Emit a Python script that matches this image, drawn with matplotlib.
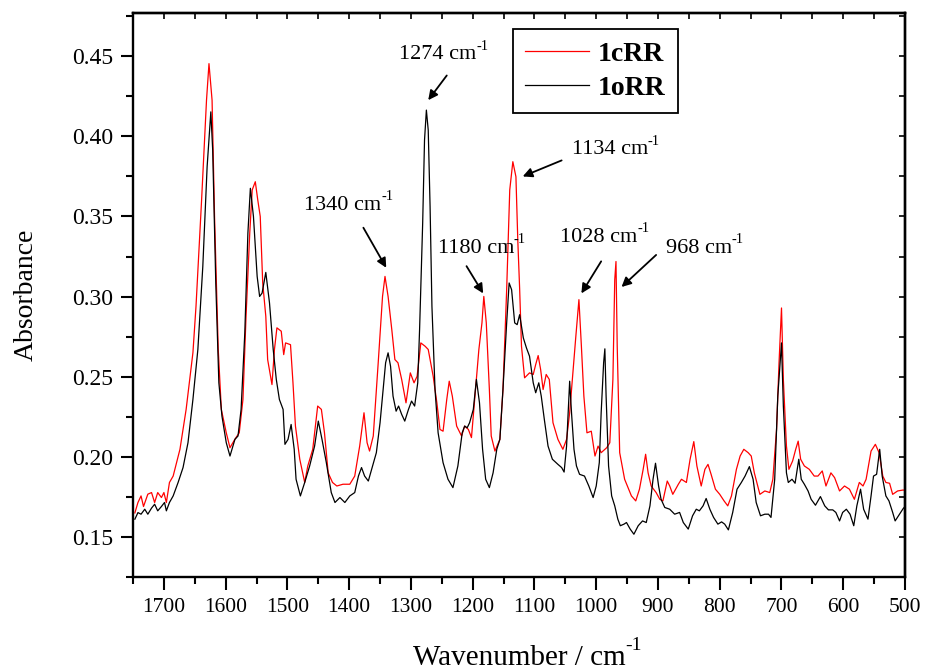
import numpy as np
import matplotlib
matplotlib.use("Agg")
import matplotlib.pyplot as plt
from matplotlib.ticker import MultipleLocator

plt.rcParams["font.family"] = ["Liberation Serif", "DejaVu Serif"]

# ---- data (wavenumber, absorbance) ----
wn_c = [1747, 1742, 1737, 1733, 1726, 1720, 1715, 1710, 1704, 1700, 1696, 1691, 1685,
        1674, 1664, 1653, 1648, 1639, 1631, 1627, 1622, 1618, 1612, 1607, 1599, 1593,
        1585, 1578, 1572, 1567, 1561, 1557, 1552, 1548, 1544, 1540, 1535, 1532, 1525,
        1521, 1517, 1510, 1506, 1503, 1495, 1491, 1487, 1480, 1472, 1467, 1459, 1451,
        1445, 1440, 1434, 1427, 1420, 1410, 1399, 1391, 1383, 1376, 1371, 1367, 1361,
        1353, 1346, 1342, 1337, 1331, 1326, 1321, 1315, 1308, 1301, 1295, 1290, 1284,
        1277, 1272, 1264, 1258, 1253, 1248, 1242, 1238, 1233, 1226, 1218, 1213, 1207,
        1202, 1195, 1190, 1185, 1182, 1178, 1173, 1170, 1164, 1156, 1151, 1145, 1140,
        1135, 1130, 1127, 1124, 1121, 1116, 1108, 1102, 1098, 1094, 1090, 1086, 1081,
        1076, 1070, 1062, 1054, 1048, 1043, 1037, 1033, 1028, 1024, 1020, 1015, 1008,
        1002, 997, 992, 983, 978, 973, 970, 968, 966, 962, 954, 943, 936, 930, 924,
        920, 916, 911, 903, 897, 892, 885, 881, 876, 867, 862, 854, 848, 842, 837,
        830, 824, 819, 814, 807, 800, 793, 787, 781, 773, 767, 761, 754, 749, 744,
        735, 727, 719, 714, 708, 704, 700, 697, 692, 688, 682, 677, 673, 669, 663,
        655, 647, 641, 634, 628, 620, 614, 606, 598, 590, 582, 574, 568, 563, 555,
        548, 542, 536, 531, 525, 520, 512, 503, 500]
abs_c = [0.165, 0.1715, 0.1756, 0.169, 0.1767, 0.1777, 0.1715, 0.1777, 0.1746, 0.1777,
         0.1715, 0.184, 0.188, 0.2047, 0.2296, 0.265, 0.294, 0.360, 0.4226, 0.4454,
         0.4226, 0.350, 0.267, 0.2296, 0.215, 0.2057, 0.211, 0.215, 0.2358, 0.2877,
         0.3396, 0.3666, 0.3717, 0.3603, 0.350, 0.3085, 0.2877, 0.2607, 0.2451, 0.267,
         0.2805, 0.2784, 0.2638, 0.2711, 0.270, 0.2462, 0.2192, 0.1985, 0.184, 0.1943,
         0.2047, 0.2317, 0.2296, 0.215, 0.190, 0.184, 0.1818, 0.1829, 0.1829, 0.188,
         0.2067, 0.2275, 0.2088, 0.2036, 0.2130, 0.2587, 0.3001, 0.3126, 0.3001, 0.2794,
         0.2607, 0.2587, 0.2483, 0.2337, 0.2524, 0.2462, 0.2503, 0.2711, 0.269, 0.267,
         0.2503, 0.2337, 0.2171, 0.216, 0.2358, 0.2472, 0.2379, 0.2192, 0.213, 0.2192,
         0.2171, 0.212, 0.2441, 0.267, 0.2836, 0.3001, 0.2836, 0.2420, 0.213, 0.2036,
         0.2109, 0.242, 0.3043, 0.3666, 0.3842, 0.3748, 0.3354, 0.305, 0.269, 0.2493,
         0.2524, 0.2514, 0.2576, 0.2632, 0.2545, 0.242, 0.2514, 0.2483, 0.2213, 0.2109,
         0.2047, 0.2109, 0.2275, 0.2566, 0.2752, 0.2981, 0.269, 0.2379, 0.215, 0.216,
         0.2005, 0.2067, 0.2026, 0.2057, 0.2088, 0.2483, 0.3105, 0.3219, 0.269, 0.2026,
         0.186, 0.1756, 0.1725, 0.1798, 0.1922, 0.2016, 0.190, 0.1818, 0.1777, 0.1735,
         0.1725, 0.1849, 0.1818, 0.1766, 0.1829, 0.186, 0.184, 0.1985, 0.2095, 0.1943,
         0.1818, 0.1922, 0.1953, 0.1891, 0.1798, 0.1766, 0.1725, 0.1694, 0.1756, 0.1922,
         0.2005, 0.2047, 0.2026, 0.2005, 0.190, 0.1766, 0.1787, 0.1777, 0.186, 0.2171,
         0.2587, 0.2929, 0.2483, 0.2067, 0.1922, 0.1974, 0.2047, 0.2098, 0.1985, 0.1943,
         0.1922, 0.188, 0.188, 0.1912, 0.1818, 0.190, 0.187, 0.1787, 0.1818, 0.1798,
         0.1735, 0.184, 0.1818, 0.186, 0.2036, 0.2078, 0.2026, 0.188, 0.184, 0.1835,
         0.1766, 0.1787, 0.1793, 0.179]

wn_o = [1747, 1742, 1737, 1731, 1726, 1720, 1715, 1710, 1704, 1699, 1696, 1691, 1685,
        1677, 1669, 1661, 1653, 1645, 1637, 1630, 1624, 1621, 1616, 1611, 1606, 1599,
        1593, 1585, 1580, 1575, 1569, 1564, 1560, 1555, 1549, 1545, 1541, 1535, 1529,
        1523, 1518, 1513, 1507, 1504, 1499, 1494, 1489, 1486, 1479, 1472, 1464, 1456,
        1450, 1444, 1437, 1429, 1423, 1415, 1407, 1399, 1391, 1385, 1380, 1375, 1369,
        1362, 1356, 1350, 1345, 1341, 1337, 1333, 1329, 1324, 1320, 1315, 1310, 1304,
        1299, 1294, 1289, 1286, 1281, 1278, 1275, 1272, 1269, 1266, 1261, 1256, 1248,
        1240, 1232, 1224, 1217, 1213, 1209, 1205, 1199, 1194, 1189, 1184, 1179, 1173,
        1167, 1161, 1156, 1151, 1145, 1141, 1137, 1132, 1128, 1124, 1118, 1113, 1108,
        1102, 1098, 1093, 1089, 1084, 1078, 1071, 1062, 1056, 1052, 1048, 1045, 1043,
        1040, 1036, 1032, 1027, 1019, 1012, 1005, 1000, 995, 992, 988, 986, 984, 980,
        975, 970, 965, 961, 955, 951, 945, 939, 932, 925, 919, 913, 908, 904, 899,
        895, 889, 881, 873, 865, 859, 851, 844, 838, 833, 827, 822, 816, 810, 803,
        797, 792, 786, 779, 772, 765, 759, 752, 746, 741, 734, 727, 721, 717, 711,
        706, 700, 697, 692, 689, 683, 678, 672, 668, 663, 657, 652, 645, 637, 630,
        624, 617, 612, 606, 601, 595, 589, 583, 578, 572, 567, 560, 555, 551, 546,
        541, 537, 531, 526, 520, 516, 509, 503, 500]
abs_o = [0.1611, 0.1652, 0.1642, 0.1673, 0.1642, 0.168, 0.1704, 0.1663, 0.169, 0.1715,
         0.1663, 0.1715, 0.1756, 0.184, 0.1933, 0.2088, 0.2358, 0.267, 0.3188, 0.3811,
         0.4153, 0.3915, 0.3085, 0.2462, 0.2254, 0.2088, 0.2005, 0.2109, 0.213, 0.2296,
         0.2773, 0.3396, 0.3676, 0.350, 0.3126, 0.3001, 0.3022, 0.3151, 0.296, 0.267,
         0.2483, 0.2358, 0.2296, 0.2078, 0.2109, 0.2202, 0.2047, 0.186, 0.1756, 0.184,
         0.1943, 0.2067, 0.2223, 0.2109, 0.1964, 0.1777, 0.1715, 0.1746, 0.1715, 0.1756,
         0.1777, 0.188, 0.1933, 0.188, 0.1849, 0.1943, 0.2026, 0.2213, 0.242, 0.2587,
         0.2649, 0.2565, 0.2379, 0.2285, 0.2317, 0.2265, 0.2223, 0.2296, 0.2348, 0.2317,
         0.2462, 0.2794, 0.3458, 0.3977, 0.4164, 0.4039, 0.3562, 0.2939, 0.242, 0.215,
         0.1964, 0.186, 0.1808, 0.1943, 0.215, 0.2192, 0.2181, 0.2213, 0.2296, 0.2483,
         0.2337, 0.2047, 0.186, 0.1808, 0.190, 0.2047, 0.2109, 0.242, 0.2836, 0.3085,
         0.3043, 0.2836, 0.2825, 0.2887, 0.2742, 0.268, 0.2628, 0.2462, 0.240, 0.2462,
         0.2379, 0.2233, 0.2067, 0.1985, 0.1953, 0.1933, 0.1905, 0.2067, 0.2317, 0.2472,
         0.2275, 0.2047, 0.1943, 0.1891, 0.188, 0.1818, 0.1746, 0.1818, 0.1964, 0.2275,
         0.2587, 0.2674, 0.2379, 0.1943, 0.1756, 0.1694, 0.1611, 0.157, 0.158, 0.159,
         0.1549, 0.1517, 0.157, 0.160, 0.159, 0.1694, 0.186, 0.196, 0.1818, 0.1735,
         0.1684, 0.1673, 0.1642, 0.1653, 0.159, 0.1549, 0.1632, 0.1673, 0.1663, 0.1694,
         0.174, 0.1673, 0.1622, 0.158, 0.1594, 0.158, 0.1544, 0.1653, 0.1798, 0.184,
         0.188, 0.1939, 0.186, 0.1715, 0.1632, 0.1642, 0.1642, 0.1622, 0.186, 0.2379,
         0.2711, 0.2317, 0.190, 0.184, 0.186, 0.1835, 0.1985, 0.186, 0.1829, 0.1787,
         0.1735, 0.1698, 0.1752, 0.1694, 0.1669, 0.1669, 0.1653, 0.160, 0.1653, 0.1673,
         0.1642, 0.157, 0.1694, 0.1798, 0.1673, 0.1611, 0.1756, 0.188, 0.1891, 0.2047,
         0.188, 0.1756, 0.1725, 0.1653, 0.160, 0.1642, 0.1677, 0.169]

series_names = ["1cRR", "1oRR"]
peak_labels = ["1274", "1340", "1180", "1134", "1028", "968"]
# (text x, text y, arrow tail x, tail y, arrow head x, head y) in data units
peak_marks = [(1256, 0.451, 1242, 0.438, 1272, 0.4226),
              (1410, 0.357, 1377, 0.343, 1340, 0.318),
              (1195, 0.330, 1210, 0.319, 1183, 0.302),
              (978, 0.3915, 1056, 0.385, 1119, 0.375),
              (996, 0.337, 992, 0.322, 1024, 0.302),
              (834, 0.330, 903, 0.326, 959, 0.306)]

fig = plt.figure(figsize=(9.25, 6.7), dpi=100)
ax = fig.add_axes([0.1438, 0.1388, 0.8346, 0.8418])

ax.plot(wn_c, abs_c, color="red", lw=0.9, label=series_names[0])
ax.plot(wn_o, abs_o, color="black", lw=0.9, label=series_names[1])

ax.set_xlim(1750, 500)
ax.set_ylim(0.125, 0.477)
ax.xaxis.set_major_locator(MultipleLocator(100))
ax.xaxis.set_minor_locator(MultipleLocator(50))
ax.yaxis.set_major_locator(MultipleLocator(0.05))
ax.yaxis.set_minor_locator(MultipleLocator(0.025))
ax.yaxis.set_major_formatter(plt.FuncFormatter(lambda v, p: f"{v:.2f}"))
ax.tick_params(which="major", direction="out", length=9, width=1.5)
ax.tick_params(which="minor", direction="out", length=5, width=1.5)
ax.tick_params(axis="x", labelsize=15.5, pad=6)
ax.tick_params(axis="y", labelsize=17, pad=5)
for s in ax.spines.values():
    s.set_linewidth(1.7)

# inward ticks on top and right
top = ax.secondary_xaxis("top")
top.xaxis.set_major_locator(MultipleLocator(50))
top.tick_params(direction="in", length=4, width=1.2, labeltop=False)
top.spines["top"].set_linewidth(1.7)
right = ax.secondary_yaxis("right")
right.yaxis.set_major_locator(MultipleLocator(0.025))
right.tick_params(direction="in", length=4, width=1.2, labelright=False)
right.spines["right"].set_linewidth(1.7)

xl = ax.set_xlabel("Wavenumber / cm", fontsize=21, labelpad=20)
ax.annotate("-1", xy=(1.0, 0.95), xycoords=xl, fontsize=14, ha="left", va="center")
ax.set_ylabel("Absorbance", fontsize=20, labelpad=24)

for lab, (tx, ty, ax0, ay0, ax1, ay1) in zip(peak_labels, peak_marks):
    t = ax.text(tx, ty, f"{lab} cm", fontsize=16, ha="center", va="center")
    ax.annotate("-1", xy=(1.0, 0.95), xycoords=t, fontsize=10.5, ha="left", va="center")
    ax.annotate("", xy=(ax1, ay1), xytext=(ax0, ay0),
                arrowprops=dict(arrowstyle="-|>", color="black", lw=1.3,
                                mutation_scale=14, shrinkA=0, shrinkB=0))

leg = ax.legend(loc="upper left", bbox_to_anchor=(0.492, 0.972), borderaxespad=0,
                prop={"weight": "bold", "size": 20}, handlelength=2.3,
                handletextpad=0.3, fancybox=False, framealpha=1,
                edgecolor="black", borderpad=0.45, labelspacing=0.3)
leg.get_frame().set_linewidth(1.3)

fig.savefig("out.png", dpi=100)
